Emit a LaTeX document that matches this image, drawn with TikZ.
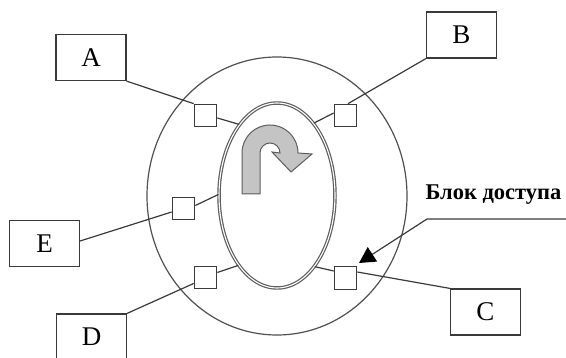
\documentclass[tikz,border=0pt]{standalone}
\usepackage{fontspec}
\setmainfont{Liberation Serif}
\usetikzlibrary{shapes.geometric,arrows.meta,calc}
\definecolor{edge}{HTML}{3A3A3A}
\definecolor{ring}{HTML}{505050}
\definecolor{turnfill}{HTML}{C4C4C4}
\definecolor{turnline}{HTML}{5E5E5E}
\tikzset{
  labelbox/.style={draw=edge, line width=1.2pt, minimum width=70pt, minimum height=46pt,
    inner sep=0pt, font=\fontsize{27}{27}\selectfont},
  port/.style={draw=edge, line width=1.2pt, minimum size=22.5pt, inner sep=0pt, fill=white},
  link/.style={draw=edge, line width=1.2pt},
  core/.style={ellipse, draw=turnline, double=white, double distance=1.1pt, line width=1.2pt,
    minimum width=116pt, minimum height=185pt, inner sep=0pt},
}
\begin{document}
\begin{tikzpicture}[x=1pt,y=-1pt]
\useasboundingbox (0,0) rectangle (566,358);
\clip (0,0) rectangle (566,358);
% outer boundary
\draw[ring, line width=1.2pt] (277,196) ellipse [x radius=130, y radius=139];
% inner core with double outline
\node[core] (core) at (277,195.5) {};
% U-turn arrow inside the core
\draw[turnline, fill=turnfill, line width=1pt, line join=miter]
  (242,194) -- (242,153) arc[start angle=180, end angle=360, radius=28]
  -- (312,154) -- (291,172) -- (272,152) -- (280,153)
  arc[start angle=0, end angle=-180, radius=10] -- (260,194) -- cycle;
% labelled boxes
\node[labelbox] (A) at (91,57.5) {A};
\node[labelbox] (B) at (461.5,35) {B};
\node[labelbox] (E) at (44.5,243.5) {E};
\node[labelbox] (D) at (91.5,337) {D};
\node[labelbox] (C) at (485.5,312) {C};
% small ports
\node[port] (pa) at (205.5,115.5) {};
\node[port] (pb) at (345.5,115.5) {};
\node[port] (pe) at (183.5,208.5) {};
\node[port] (pd) at (205.5,277.5) {};
\node[port] (pc) at (345.5,278) {};
% box to port links
\draw[link] (A.south east) -- (pa.north west);
\draw[link] (B.south west) -- ([xshift=2.5pt]pb.north);
\draw[link] ([yshift=2.5pt]E.east) -- ([yshift=-3.5pt]pe.west);
\draw[link] (D.north east) -- ([yshift=-6pt]pd.west);
\draw[link] ([yshift=6pt]pc.east) -- (C.north west);
% port to core links
\draw[link] ([yshift=-2.5pt]pa.east) -- (core.118);
\draw[link] ([yshift=2.5pt]pb.west) -- (core.63);
\draw[link] ([yshift=3pt]pe.east) -- (core.179);
\draw[link] ([yshift=5pt]pd.east) -- (core.241);
\draw[link] ([yshift=7pt]pc.west) -- (core.298);
% access block callout
\node[font=\bfseries\fontsize{22.5}{22.5}\selectfont, inner sep=0pt] (acc) at (493.5,195) {Блок доступа};
\coordinate (accend) at (566,219);
\coordinate (accbend) at (427,219);
\coordinate (acctip) at (359,263);
\draw[link, -{Triangle[length=16pt,width=17pt,color=black,fill=black]}] (accend) -- (accbend) -- (acctip);
\end{tikzpicture}
\end{document}
